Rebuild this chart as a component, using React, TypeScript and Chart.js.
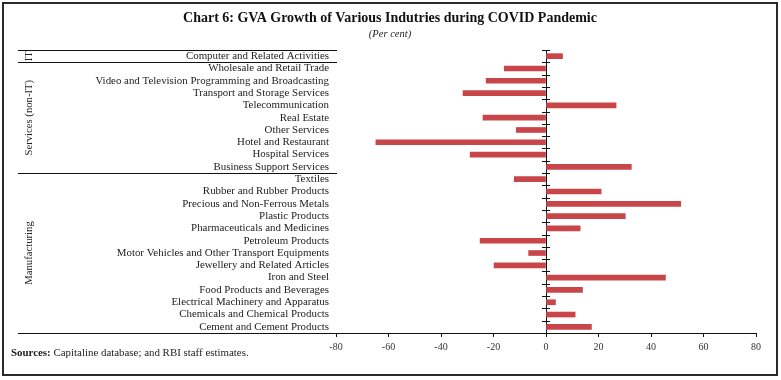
import React, { useEffect, useRef } from 'react';
import { Chart, registerables } from 'chart.js';

Chart.register(...registerables);

const categories = [
  'Computer and Related Activities',
  'Wholesale and Retail Trade',
  'Video and Television Programming and Broadcasting',
  'Transport and Storage Services',
  'Telecommunication',
  'Real Estate',
  'Other Services',
  'Hotel and Restaurant',
  'Hospital Services',
  'Business Support Services',
  'Textiles',
  'Rubber and Rubber Products',
  'Precious and Non-Ferrous Metals',
  'Plastic Products',
  'Pharmaceuticals and Medicines',
  'Petroleum Products',
  'Motor Vehicles and Other Transport Equipments',
  'Jewellery and Related Articles',
  'Iron and Steel',
  'Food Products and Beverages',
  'Electrical Machinery and Apparatus',
  'Chemicals and Chemical Products',
  'Cement and Cement Products',
];

const growth = [
  6.3, -15.9, -22.8, -31.6, 26.7, -24.0, -11.3, -64.8, -28.9, 32.5,
  -12.1, 21.0, 51.3, 30.2, 13.0, -25.1, -6.6, -19.8, 45.5, 13.9, 3.6, 11.1, 17.3,
];

const groupNames = ['IT', 'Services (non-IT)', 'Manufacturing'];
const groupSizes = [1, 9, 13];

const xMin = -80;
const xMax = 80;
const xStep = 20;

const FONT = "'Liberation Serif', 'Times New Roman', serif";
const BAR_COLOR = '#C8464A';

const decorPlugin = {
  id: 'groupDecor',
  afterDraw(chart: any) {
    const { ctx, chartArea, scales } = chart;
    const x = scales.x;
    const y = scales.y;
    const step = y.getPixelForValue(1) - y.getPixelForValue(0);
    const boundary = (i: number) => y.getPixelForValue(i) - step / 2;
    const x0 = x.getPixelForValue(0);
    const lineLeft = 18;
    ctx.save();
    ctx.strokeStyle = '#111';
    ctx.lineWidth = 1;
    ctx.beginPath();
    for (let i = 0; i < categories.length; i++) {
      const yy = Math.round(boundary(i)) + 0.5;
      ctx.moveTo(x0 - 4, yy);
      ctx.lineTo(x0 + 4, yy);
    }
    ctx.stroke();
    ctx.beginPath();
    let idx = 0;
    const starts: number[] = [];
    for (let g = 0; g < groupSizes.length; g++) {
      starts.push(idx);
      const yy = Math.round(boundary(idx)) + 0.5;
      ctx.moveTo(lineLeft, yy);
      ctx.lineTo(chartArea.left + 1, yy);
      idx += groupSizes[g];
    }
    const yb = Math.round(chartArea.bottom) + 0.5;
    ctx.moveTo(lineLeft, yb);
    ctx.lineTo(chartArea.left, yb);
    ctx.stroke();
    ctx.fillStyle = '#222';
    ctx.font = `10.7px ${FONT}`;
    ctx.textAlign = 'center';
    ctx.textBaseline = 'middle';
    for (let g = 0; g < groupSizes.length; g++) {
      const top = boundary(starts[g]);
      const bottom = g + 1 < groupSizes.length ? boundary(starts[g + 1]) : chartArea.bottom;
      const cy = (top + bottom) / 2;
      ctx.save();
      ctx.translate(29, cy);
      ctx.rotate(-Math.PI / 2);
      ctx.fillText(groupNames[g], 0, 0);
      ctx.restore();
    }
    ctx.restore();
  },
};

export default function App() {
  const canvasRef = useRef<HTMLCanvasElement | null>(null);

  useEffect(() => {
    const canvas = canvasRef.current;
    if (!canvas) return;
    const chart = new Chart(canvas, {
      type: 'bar',
      data: {
        labels: categories,
        datasets: [
          {
            data: growth,
            backgroundColor: BAR_COLOR,
            borderWidth: 0,
            barThickness: 5,
          },
        ],
      },
      options: {
        indexAxis: 'y',
        responsive: false,
        animation: false,
        maintainAspectRatio: false,
        layout: { padding: { left: 24, right: 25, top: 0, bottom: 0 } },
        plugins: {
          legend: { display: false },
          tooltip: { enabled: false },
          title: {
            display: true,
            text: 'Chart 6: GVA Growth of Various Indutries during COVID Pandemic',
            color: '#111',
            font: { family: FONT, size: 14, weight: 'bold' },
            padding: { top: 10, bottom: 0 },
          },
          subtitle: {
            display: true,
            text: '(Per cent)',
            color: '#222',
            font: { family: FONT, size: 10.5, style: 'italic' },
            padding: { top: 1, bottom: 9.6 },
          },
        },
        scales: {
          x: {
            type: 'linear',
            min: xMin,
            max: xMax,
            afterFit: (scale: any) => {
              scale.height = 47;
            },
            ticks: {
              stepSize: xStep,
              padding: 4,
              color: '#333',
              font: { family: FONT, size: 10 },
            },
            grid: {
              drawOnChartArea: true,
              drawTicks: true,
              tickLength: 4,
              color: (c: any) => (c.tick && c.tick.value === 0 ? '#111' : 'rgba(0,0,0,0)'),
              tickColor: '#111',
            },
            border: { display: true, color: '#111', width: 1 },
          },
          y: {
            type: 'category',
            afterFit: (scale: any) => {
              scale.width = 312;
            },
            ticks: {
              padding: 7,
              color: '#222',
              autoSkip: false,
              font: { family: FONT, size: 10.9 },
            },
            grid: { display: false, drawTicks: false },
            border: { display: false },
          },
        },
      },
      plugins: [decorPlugin],
    } as any);
    return () => chart.destroy();
  }, []);

  return (
    <div style={{ position: 'fixed', left: 0, top: 0, width: 781, height: 380, background: '#fff' }}>
      <canvas ref={canvasRef} width={781} height={380} style={{ position: 'absolute', left: 0, top: 0 }} />
      <div
        style={{
          position: 'absolute',
          left: 2,
          top: 2,
          width: 776,
          height: 374,
          boxSizing: 'border-box',
          border: '2px solid #2a2a2a',
          pointerEvents: 'none',
        }}
      />
      <div
        style={{
          position: 'absolute',
          left: 11,
          top: 345,
          fontFamily: FONT,
          fontSize: 10.9,
          color: '#222',
          whiteSpace: 'nowrap',
          lineHeight: '15px',
        }}
      >
        <b>Sources:</b> Capitaline database; and RBI staff estimates.
      </div>
    </div>
  );
}
